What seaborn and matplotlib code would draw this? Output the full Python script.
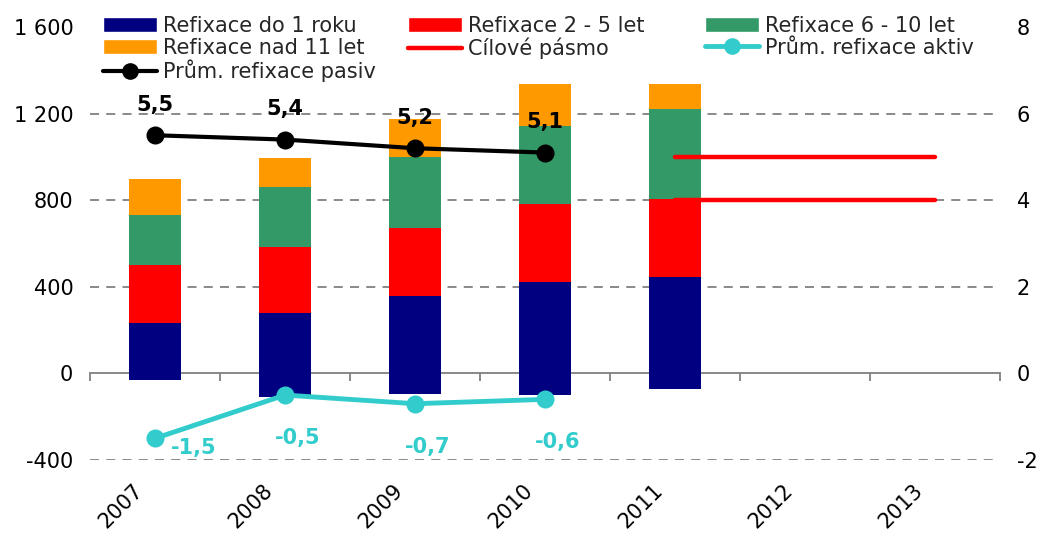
import numpy as np
import pandas as pd
import matplotlib
matplotlib.use("Agg")
import matplotlib.pyplot as plt
import seaborn as sns
from matplotlib.patches import Patch
from matplotlib.lines import Line2D
from matplotlib.transforms import ScaledTranslation

nan = np.nan
# ---------------- data ----------------
roky = ["2007", "2008", "2009", "2010", "2011", "2012", "2013"]
refix_do1 = [232, 278, 357, 422, 444, nan, nan]
refix_do1_zapor = [-31, -110, -96, -100, -74, nan, nan]
refix_2_5 = [268, 306, 316, 361, 362, nan, nan]
refix_6_10 = [232, 278, 328, 362, 414, nan, nan]
refix_nad11 = [167, 134, 176, 190, 116, nan, nan]
prum_pasiv = [5.5, 5.4, 5.2, 5.1, nan, nan, nan]
prum_aktiv = [-1.5, -0.5, -0.7, -0.6, nan, nan, nan]
cil_horni = [nan, nan, nan, nan, 5, 5, 5]
cil_dolni = [nan, nan, nan, nan, 4, 4, 4]
left_ticks = [-400, 0, 400, 800, 1200, 1600]
left_labels = ["-400", "0", "400", "800", "1 200", "1 600"]
right_ticks = [-2, 0, 2, 4, 6, 8]

C_NAVY = "#000080"
C_RED = "#FF0000"
C_GREEN = "#339966"
C_ORANGE = "#FF9900"
C_CYAN = "#33CCCC"
C_GRAY = "#808080"
FS = 15

sns.set_theme(style="white")
plt.rcParams["font.family"] = ["DejaVu Sans"]

fig = plt.figure(figsize=(10.37, 5.33), dpi=100)
ax = fig.add_axes([90 / 1037, 73 / 533, 910 / 1037, 433 / 533])

# cumulative stacking, drawn from the top layer down
c1 = np.array(refix_do1, dtype=float)
c2 = c1 + np.array(refix_2_5, dtype=float)
c3 = c2 + np.array(refix_6_10, dtype=float)
c4 = c3 + np.array(refix_nad11, dtype=float)
for vals, col in [(c4, C_ORANGE), (c3, C_GREEN), (c2, C_RED), (c1, C_NAVY),
                  (np.array(refix_do1_zapor, dtype=float), C_NAVY)]:
    df = pd.DataFrame({"rok": roky, "val": vals})
    sns.barplot(data=df, x="rok", y="val", order=roky, color=col, width=0.4,
                saturation=1, errorbar=None, linewidth=0, ax=ax)

ax.set_xlim(-0.5, len(roky) - 0.5)
ax.set_ylim(-400, 1600)
ax.set_xlabel("")
ax.set_ylabel("")
for s in ax.spines.values():
    s.set_visible(False)
ax.set_yticks(left_ticks, left_labels)
ax.set_xticks(range(len(roky)), roky, rotation=45, ha="right", va="top")
ax.tick_params(axis="both", length=0, labelsize=FS, colors="black")
ax.tick_params(axis="y", pad=12)
ax.tick_params(axis="x", pad=8)
shift = ScaledTranslation(-0.08, -0.09, fig.dpi_scale_trans)
for lbl in ax.get_xticklabels():
    lbl.set_transform(lbl.get_transform() + shift)
ax.set_axisbelow(True)
ax.yaxis.grid(True, linestyle=(0, (5, 4)), color=C_GRAY, linewidth=1.3)
for t, gl in zip(left_ticks, ax.get_ygridlines()):
    if t in (0, 1600):
        gl.set_visible(False)

# category axis line at zero
secax = ax.secondary_xaxis(0.2)
secax.set_xticks(np.arange(-0.5, len(roky), 1.0), labels=[])
secax.tick_params(axis="x", length=6, width=1.3, color=C_GRAY, labelbottom=False)
secax.spines["bottom"].set_color(C_GRAY)
secax.spines["bottom"].set_linewidth(1.3)

# right axis with lines
ax2 = ax.twinx()
pos = np.arange(len(roky))
sns.lineplot(x=pos, y=cil_horni, color=C_RED, linewidth=3.2, solid_capstyle="round", ax=ax2)
sns.lineplot(x=pos, y=cil_dolni, color=C_RED, linewidth=3.2, solid_capstyle="round", ax=ax2)
sns.lineplot(x=pos, y=prum_aktiv, color=C_CYAN, linewidth=3.5, marker="o", markersize=13,
             markeredgewidth=0, ax=ax2)
sns.lineplot(x=pos, y=prum_pasiv, color="black", linewidth=3, marker="o", markersize=13,
             markeredgewidth=0, ax=ax2)
ax2.set_ylim(-2, 8)
ax2.set_yticks(right_ticks, [str(t) for t in right_ticks])
ax2.set_xlim(-0.5, len(roky) - 0.5)
ax2.set_xlabel("")
ax2.set_ylabel("")
for s in ax2.spines.values():
    s.set_visible(False)
ax2.tick_params(axis="y", length=0, labelsize=FS, pad=12, colors="black")

def fmt(v):
    return f"{v:.1f}".replace(".", ",")

for i, v in enumerate(prum_pasiv):
    if not np.isnan(v):
        ax2.annotate(fmt(v), (i, v), xytext=(0, 22), textcoords="offset points",
                     ha="center", va="center", fontsize=FS, fontweight="bold", color="black")
for i, v in enumerate(prum_aktiv):
    if not np.isnan(v):
        off = (28, -7) if i == 0 else (9, -31)
        ax2.annotate(fmt(v), (i, v), xytext=off, textcoords="offset points",
                     ha="center", va="center", fontsize=FS, fontweight="bold", color=C_CYAN)

# legends (three columns)
h_do1 = Patch(facecolor=C_NAVY, label="Refixace do 1 roku")
h_25 = Patch(facecolor=C_RED, label="Refixace 2 - 5 let")
h_610 = Patch(facecolor=C_GREEN, label="Refixace 6 - 10 let")
h_11 = Patch(facecolor=C_ORANGE, label="Refixace nad 11 let")
h_cil = Line2D([], [], color=C_RED, linewidth=3.2, solid_capstyle="round", label="Cílové pásmo")
h_akt = Line2D([], [], color=C_CYAN, linewidth=3.5, marker="o", markersize=12,
               markeredgewidth=0, label="Prům. refixace aktiv")
h_pas = Line2D([], [], color="black", linewidth=3, marker="o", markersize=12,
               markeredgewidth=0, label="Prům. refixace pasiv")

ytop = 1 - 16 / 533
for hs, x0 in [([h_do1, h_11, h_pas], 103), ([h_25, h_cil], 408), ([h_610, h_akt], 705)]:
    fig.legend(handles=hs, loc="upper left", bbox_to_anchor=(x0 / 1037, ytop),
               frameon=False, fontsize=FS, handlelength=2.6, handleheight=0.72,
               handletextpad=0.3, labelspacing=0.08, borderpad=0, borderaxespad=0)

fig.savefig("out.png", dpi=100)
